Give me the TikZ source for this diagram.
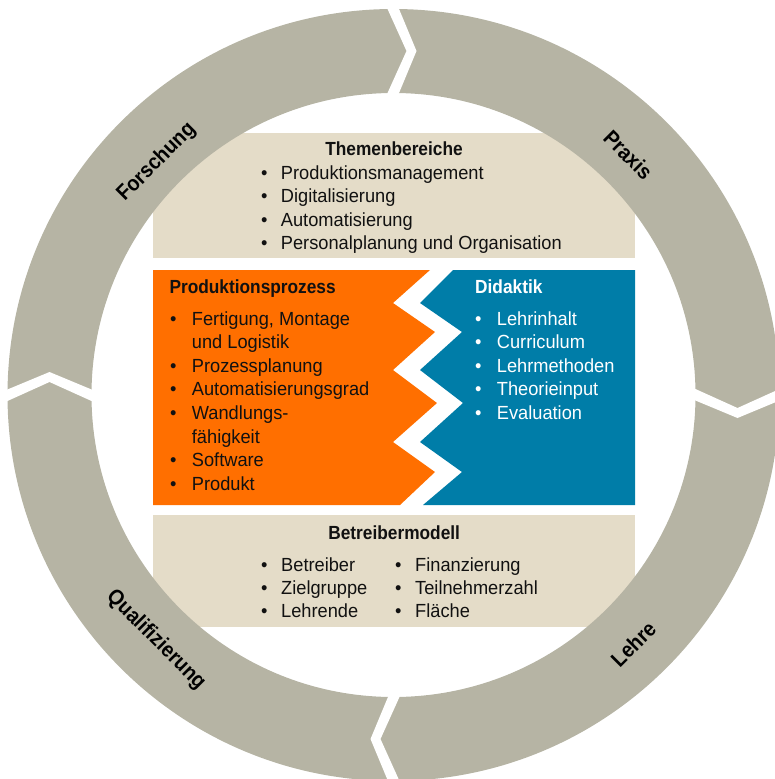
\documentclass[tikz,border=0pt]{standalone}
\usepackage{fontspec}
\setmainfont[FakeStretch=0.96]{Liberation Sans}
\newfontfamily\hdrfont[FakeStretch=0.91]{Liberation Sans}
\definecolor{ringgray}{RGB}{182,180,164}
\definecolor{beige}{RGB}{228,220,200}
\definecolor{orng}{RGB}{255,111,0}
\definecolor{blu}{RGB}{0,125,168}
\definecolor{ink}{RGB}{17,17,17}
\tikzset{
  txt/.style={anchor=base west, inner sep=0pt, text=ink, font=\fontsize{19}{21}\selectfont},
  bul/.style={anchor=base, inner sep=0pt, text=ink, font=\fontsize{19}{21}\selectfont},
  hd/.style={inner sep=0pt, text=ink, font=\hdrfont\bfseries\fontsize{19}{21}\selectfont},
  ringlbl/.style={inner sep=0pt, text=black, font=\hdrfont\bfseries\fontsize{21.5}{24}\selectfont},
}
\begin{document}
\begin{tikzpicture}[x=1pt,y=-1pt]
\useasboundingbox (0,0) rectangle (775,779);
\clip (0,0) rectangle (775,779);
% panels
\fill[beige] (153,133) rectangle (635,258);
\fill[beige] (153,515) rectangle (635,627);
\fill[orng] (153,270) -- (430,270) -- (393,303) -- (435,332) -- (393,370) -- (437,403) -- (393,442) -- (435,472) -- (400,505) -- (153,505) -- cycle;
\fill[blu] (453,270) -- (635,270) -- (635,505) -- (423,505) -- (462,472) -- (420,442) -- (463,403) -- (420,370) -- (462,332) -- (420,303) -- cycle;
% ring
\fill[ringgray, even odd rule] (393.5,395) circle[radius=386pt] (393.5,395) circle[radius=302pt];
\foreach \ux/\uy/\tx/\ty in {0/-1/1/0, 1/0/0/1, 0/1/-1/0, -1/0/0/-1}{
  \fill[white]
    ({393.5+394*(\ux)-9.6*(\tx)},{395+394*(\uy)-9.6*(\ty)}) --
    ({393.5+344*(\ux)+13*(\tx)},{395+344*(\uy)+13*(\ty)}) --
    ({393.5+294*(\ux)-9.6*(\tx)},{395+294*(\uy)-9.6*(\ty)}) --
    ({393.5+294*(\ux)+2.2*(\tx)},{395+294*(\uy)+2.2*(\ty)}) --
    ({393.5+344*(\ux)+23*(\tx)},{395+344*(\uy)+23*(\ty)}) --
    ({393.5+394*(\ux)+2.2*(\tx)},{395+394*(\uy)+2.2*(\ty)}) -- cycle;
}
% ring labels
\node[ringlbl, rotate=45] (forschung) at (156.7,162.3) {Forschung};
\node[ringlbl, rotate=-45] (praxis) at (628.3,155) {Praxis};
\node[ringlbl, rotate=45] (lehre) at (633.3,644) {Lehre};
\node[ringlbl, rotate=-45] (quali) at (155.8,640) {Qualifizierung};
% Themenbereiche
\node[hd, anchor=base] (th) at (394,155) {Themenbereiche};
\node[bul] (tb1) at (264.3,179.3) {•}; \node[txt] (tt1) at (280.7,179.3) {Produktionsmanagement};
\node[bul] (tb2) at (264.3,202.7) {•}; \node[txt] (tt2) at (280.7,202.7) {Digitalisierung};
\node[bul] (tb3) at (264.3,226) {•}; \node[txt] (tt3) at (280.7,226) {Automatisierung};
\node[bul] (tb4) at (264.3,249.3) {•}; \node[txt] (tt4) at (280.7,249.3) {Personalplanung und Organisation};
% Produktionsprozess
\node[hd, anchor=base west] (ph) at (169.3,293.3) {Produktionsprozess};
\node[bul] (pb1) at (173.3,325) {•}; \node[txt] (pt1) at (191.7,325) {Fertigung, Montage};
\node[txt] (pt1b) at (191.7,348.6) {und Logistik};
\node[bul] (pb2) at (173.3,372.2) {•}; \node[txt] (pt2) at (191.7,372.2) {Prozessplanung};
\node[bul] (pb3) at (173.3,395.8) {•}; \node[txt] (pt3) at (191.7,395.8) {Automatisierungsgrad};
\node[bul] (pb4) at (173.3,419.4) {•}; \node[txt] (pt4) at (191.7,419.4) {Wandlungs-};
\node[txt] (pt4b) at (191.7,443) {fähigkeit};
\node[bul] (pb5) at (173.3,466.6) {•}; \node[txt] (pt5) at (191.7,466.6) {Software};
\node[bul] (pb6) at (173.3,490.2) {•}; \node[txt] (pt6) at (191.7,490.2) {Produkt};
% Didaktik
\node[hd, anchor=base west, text=white] (dh) at (475,293.3) {Didaktik};
\node[bul, text=white] (db1) at (478.3,325) {•}; \node[txt, text=white] (dt1) at (496.7,325) {Lehrinhalt};
\node[bul, text=white] (db2) at (478.3,348.6) {•}; \node[txt, text=white] (dt2) at (496.7,348.6) {Curriculum};
\node[bul, text=white] (db3) at (478.3,372.2) {•}; \node[txt, text=white] (dt3) at (496.7,372.2) {Lehrmethoden};
\node[bul, text=white] (db4) at (478.3,395.8) {•}; \node[txt, text=white] (dt4) at (496.7,395.8) {Theorieinput};
\node[bul, text=white] (db5) at (478.3,419.4) {•}; \node[txt, text=white] (dt5) at (496.7,419.4) {Evaluation};
% Betreibermodell
\node[hd, anchor=base] (bh) at (394.2,539.3) {Betreibermodell};
\node[bul] (bb1) at (264.3,571.7) {•}; \node[txt] (bt1) at (281,571.7) {Betreiber};
\node[bul] (bb2) at (264.3,594.5) {•}; \node[txt] (bt2) at (281,594.5) {Zielgruppe};
\node[bul] (bb3) at (264.3,617.3) {•}; \node[txt] (bt3) at (281,617.3) {Lehrende};
\node[bul] (bb4) at (398.3,571.7) {•}; \node[txt] (bt4) at (415,571.7) {Finanzierung};
\node[bul] (bb5) at (398.3,594.5) {•}; \node[txt] (bt5) at (415,594.5) {Teilnehmerzahl};
\node[bul] (bb6) at (398.3,617.3) {•}; \node[txt] (bt6) at (415,617.3) {Fläche};
\end{tikzpicture}
\end{document}
